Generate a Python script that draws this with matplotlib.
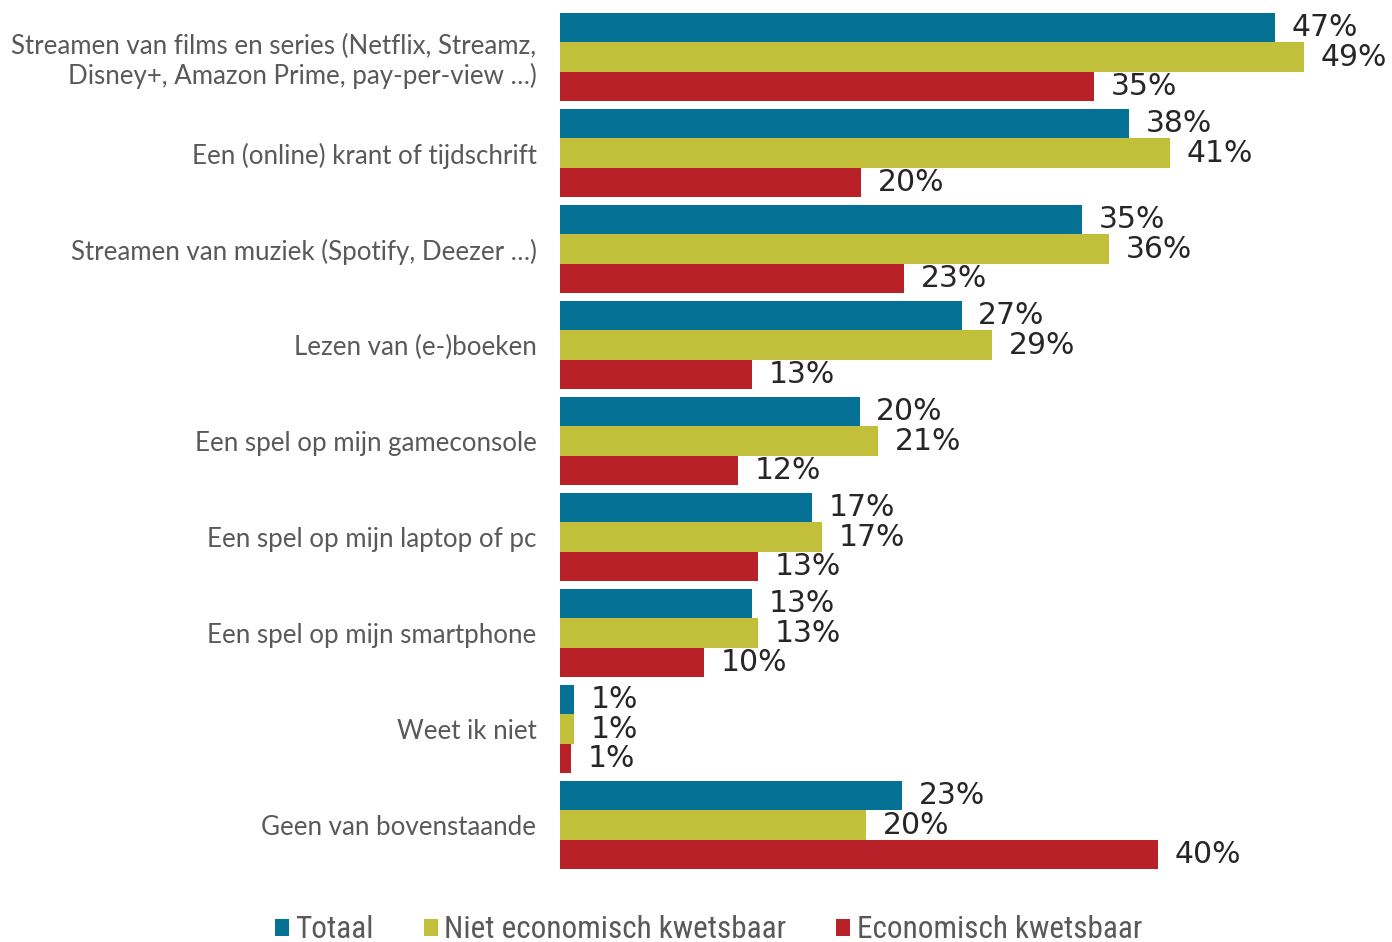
import numpy as np
import matplotlib.pyplot as plt
from matplotlib.patches import Patch
from matplotlib import font_manager

# Data
categories = [
    "Streamen van films en series (Netflix, Streamz,\nDisney+, Amazon Prime, pay-per-view \u2026)",
    "Een (online) krant of tijdschrift",
    "Streamen van muziek (Spotify, Deezer \u2026)",
    "Lezen van (e-)boeken",
    "Een spel op mijn gameconsole",
    "Een spel op mijn laptop of pc",
    "Een spel op mijn smartphone",
    "Weet ik niet",
    "Geen van bovenstaande",
]
series_names = ["Totaal", "Niet economisch kwetsbaar", "Economisch kwetsbaar"]

# printed percentages
totaal = [47, 38, 35, 27, 20, 17, 13, 1, 23]
niet_kwetsbaar = [49, 41, 36, 29, 21, 17, 13, 1, 20]
kwetsbaar = [35, 20, 23, 13, 12, 13, 10, 1, 40]

# bar lengths as drawn in the picture (unrounded)
totaal_bar = [47.0, 37.4, 34.3, 26.4, 19.7, 16.6, 12.6, 0.9, 22.5]
niet_kwetsbaar_bar = [48.9, 40.1, 36.1, 28.4, 20.9, 17.2, 13.0, 0.9, 20.1]
kwetsbaar_bar = [35.1, 19.8, 22.6, 12.6, 11.7, 13.0, 9.5, 0.7, 39.3]

colors = ["#057194", "#C2BF3B", "#B72127"]

installed = {f.name for f in font_manager.fontManager.ttflist}
legend_font = "DejaVu Sans"
for name in ["Liberation Sans Narrow", "DejaVu Sans Condensed", "Roboto Condensed"]:
    if name in installed:
        legend_font = name
        break

fig = plt.figure(figsize=(13.92, 9.42), dpi=100)
ax = fig.add_axes([560 / 1392, 1 - 873 / 942, 1 - 560 / 1392, 864 / 942])

y = np.arange(len(categories))
h = 0.305
bars = [totaal_bar, niet_kwetsbaar_bar, kwetsbaar_bar]
labels = [totaal, niet_kwetsbaar, kwetsbaar]
for k in range(3):
    pos = y + (k - 1) * h
    ax.barh(pos, bars[k], height=h, color=colors[k], edgecolor="none")
    for p, b, v in zip(pos, bars[k], labels[k]):
        ax.annotate(f"{v}%", xy=(b, p), xytext=(12, 0), textcoords="offset points",
                    ha="left", va="center", fontsize=21.5, color="#262626",
                    family="DejaVu Sans")

ax.set_xlim(0, 54.7)
ax.set_ylim(len(categories) - 0.5, -0.5)
ax.set_yticks(y)
ax.set_yticklabels(categories, fontsize=18.6, color="#595959", family="Lato",
                   linespacing=1.18)
ax.tick_params(axis="y", length=0, pad=17)
ax.set_xticks([])
for s in ax.spines.values():
    s.set_visible(False)

handles = [Patch(facecolor=c, edgecolor="none") for c in colors]
leg = fig.legend(handles, series_names, loc="center", bbox_to_anchor=(0.509, 1 - 930 / 942),
                 ncol=3, frameon=False, handlelength=0.45, handleheight=0.45,
                 handletextpad=0.2, columnspacing=1.6,
                 prop={"family": legend_font, "size": 22.5})
for t in leg.get_texts():
    t.set_color("#595959")

fig.savefig("out.png", dpi=100)
